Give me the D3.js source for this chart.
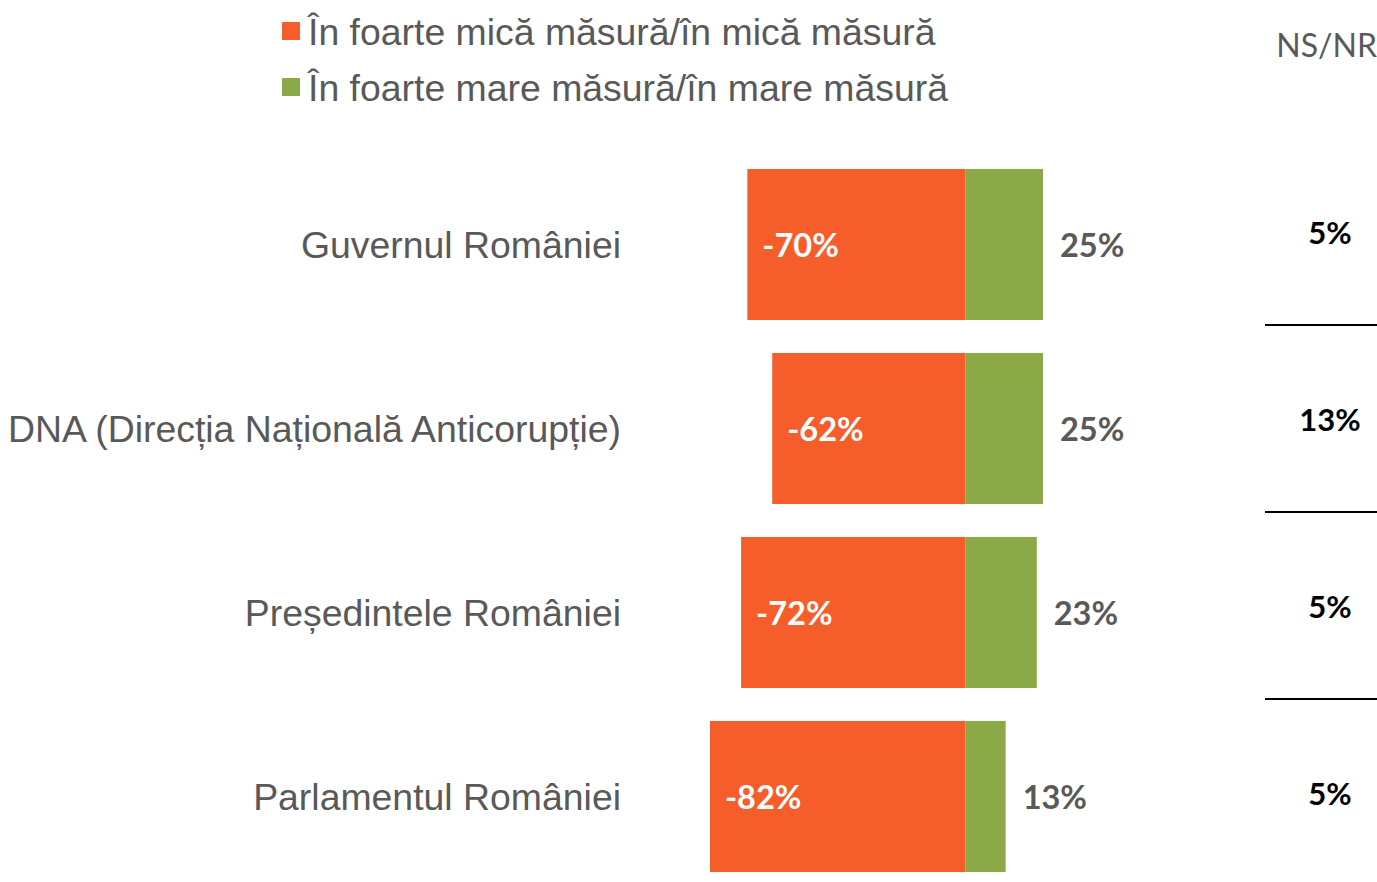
<!DOCTYPE html>
<html>
<head>
<meta charset="utf-8">
<script src="https://cdn.jsdelivr.net/npm/d3@7"></script>
<style>
  body { margin: 0; background: #fff; }
  svg { display: block; }
</style>
</head>
<body>
<div class="container"></div>
<script>
(function () {
  const categories = ['Guvernul României', 'DNA (Direcția Națională Anticorupție)', 'Președintele României', 'Parlamentul României']
  const lowTrust = [-70, -62, -72, -82]
  const highTrust = [25, 25, 23, 13]
  const nsnr = [5, 13, 5, 5]
  const legendLabels = ['În foarte mică măsură/în mică măsură', 'În foarte mare măsură/în mare măsură']

  const colors = { low: '#F55D2B', high: '#8BAA47' }

  var width = 1377
  var height = 882

  var svg = d3.select('.container')
              .append('svg')
              .attr('width', width)
              .attr('height', height)

  // x scale, zero sits at 965
  var x = d3.scaleLinear().domain([-82, 25]).range([710, 1043])
  var y = d3.scaleBand()
            .domain(categories)
            .range([152.5, 888.5])
            .paddingInner(0.179)
            .paddingOuter(0.0895)
  // the NS/NR column has its own, slightly wider spacing
  var yNs = d3.scaleBand().domain(categories).range([139.5, 139.5 + 4 * 187])

  var data = categories.map(function (c, i) {
    return { name: c, low: lowTrust[i], high: highTrust[i], ns: nsnr[i] }
  })

  // legend
  var legend = svg.append('g')
  legendLabels.forEach(function (label, i) {
    legend.append('rect')
          .attr('x', 282).attr('y', 22 + i * 56)
          .attr('width', 18).attr('height', 18)
          .attr('fill', i === 0 ? colors.low : colors.high)
    legend.append('text')
          .attr('x', 308).attr('y', 45 + i * 56)
          .attr('font-family', 'Liberation Sans, Arial, sans-serif')
          .attr('font-size', 37.4)
          .attr('fill', '#595959')
          .text(label)
  })

  svg.append('text')
     .attr('x', 1377).attr('y', 57)
     .attr('text-anchor', 'end')
     .attr('font-family', 'Lato, Open Sans, sans-serif')
     .attr('font-size', 32)
     .attr('fill', '#595959')
     .text('NS/NR')

  var rows = svg.selectAll('.row').data(data).enter()
                .append('g').attr('class', 'row')

  rows.append('rect')
      .attr('x', function (d) { return x(d.low) })
      .attr('y', function (d) { return y(d.name) })
      .attr('width', function (d) { return x(0) - x(d.low) })
      .attr('height', y.bandwidth())
      .attr('fill', colors.low)

  rows.append('rect')
      .attr('x', x(0))
      .attr('y', function (d) { return y(d.name) })
      .attr('width', function (d) { return x(d.high) - x(0) })
      .attr('height', y.bandwidth())
      .attr('fill', colors.high)

  // category labels
  rows.append('text')
      .attr('x', 621)
      .attr('y', function (d) { return y(d.name) + y.bandwidth() / 2 })
      .attr('dy', '0.35em')
      .attr('text-anchor', 'end')
      .attr('font-family', 'Liberation Sans, Arial, sans-serif')
      .attr('font-size', 37.4)
      .attr('fill', '#595959')
      .text(function (d) { return d.name })

  rows.append('text')
      .attr('x', function (d) { return x(d.low) + 15 })
      .attr('y', function (d) { return y(d.name) + y.bandwidth() / 2 + 1 })
      .attr('dy', '0.35em')
      .attr('font-family', 'Lato, Open Sans, sans-serif')
      .attr('font-weight', 'bold')
      .attr('font-size', 32.5)
      .attr('fill', '#fff')
      .text(function (d) { return d.low + '%' })

  rows.append('text')
      .attr('x', function (d) { return x(d.high) + 17 })
      .attr('y', function (d) { return y(d.name) + y.bandwidth() / 2 + 1 })
      .attr('dy', '0.35em')
      .attr('font-family', 'Lato, Open Sans, sans-serif')
      .attr('font-weight', 'bold')
      .attr('font-size', 32.5)
      .attr('fill', '#595959')
      .text(function (d) { return d.high + '%' })

  rows.append('text')
      .attr('x', 1330)
      .attr('y', function (d) { return yNs(d.name) + yNs.bandwidth() / 2 })
      .attr('dy', '0.35em')
      .attr('text-anchor', 'middle')
      .attr('font-family', 'Lato, Open Sans, sans-serif')
      .attr('font-weight', 'bold')
      .attr('font-size', 31)
      .attr('fill', '#000')
      .text(function (d) { return d.ns + '%' })

  // separators in the NS/NR column
  svg.selectAll('.sep').data(categories.slice(0, -1)).enter()
     .append('line')
     .attr('class', 'sep')
     .attr('x1', 1265).attr('x2', 1377)
     .attr('y1', function (c) { return Math.round(yNs(c) + yNs.step() - 2) })
     .attr('y2', function (c) { return Math.round(yNs(c) + yNs.step() - 2) })
     .attr('stroke', '#000')
     .attr('stroke-width', 2)
}())
</script>
</body>
</html>
